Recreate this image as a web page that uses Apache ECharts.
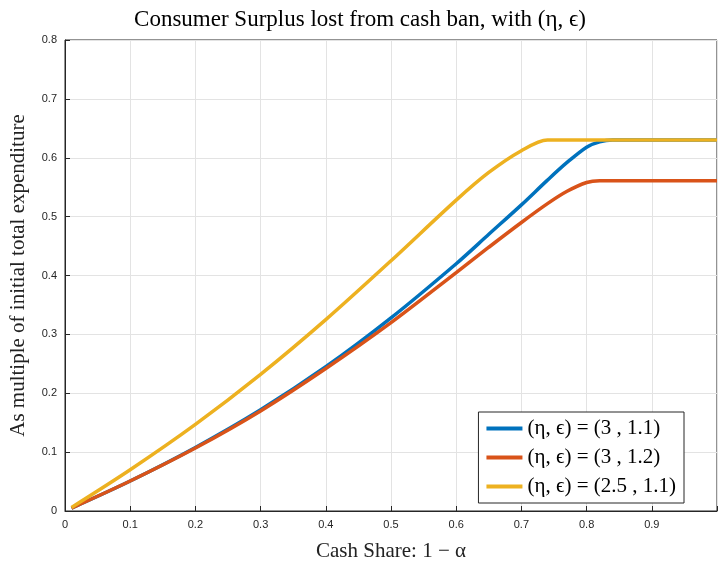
<!DOCTYPE html>
<html><head><meta charset="utf-8">
<script src="https://cdn.jsdelivr.net/npm/echarts@6/dist/echarts.min.js"></script>
<style>html,body{margin:0;padding:0;background:#fff;overflow:hidden}</style>
</head><body>
<div id="chartView" style="width:720px;height:567px;"></div>
<script>
var xData = [0.01, 0.1, 0.2, 0.3, 0.4, 0.5, 0.6, 0.65, 0.7, 0.74, 0.77, 0.8, 0.82, 0.84, 0.86, 0.9, 1.0];
var blue = [0.005, 0.051, 0.108, 0.172, 0.245, 0.328, 0.42, 0.47, 0.52, 0.562, 0.592, 0.618, 0.627, 0.63, 0.63, 0.63, 0.63];
var red = [0.005, 0.051, 0.107, 0.17, 0.242, 0.32, 0.405, 0.448, 0.49, 0.522, 0.543, 0.558, 0.561, 0.561, 0.561, 0.561, 0.561];
var yellow = [0.006, 0.07, 0.147, 0.232, 0.325, 0.425, 0.528, 0.575, 0.612, 0.63, 0.63, 0.63, 0.63, 0.63, 0.63, 0.63, 0.63];
var names = ['(η, ϵ) = (3 , 1.1)', '(η, ϵ) = (3 , 1.2)', '(η, ϵ) = (2.5 , 1.1)'];
var colors = ['#0072BD', '#D95319', '#EDB120'];

function pairs(ys) { return xData.map(function (x, i) { return [x, ys[i]]; }); }

var chartView = echarts.init(document.getElementById('chartView'));
var serif = '"Liberation Serif", "DejaVu Serif", serif';
var ops = {
	animation: false,
	title: {
		text: 'Consumer Surplus lost from cash ban, with (η, ϵ)',
		left: 'center', top: 3,
		textStyle: { fontFamily: serif, fontSize: 23, fontWeight: 'normal', color: '#000' }
	},
	color: colors,
	grid: { left: 63, right: -4, top: 40, bottom: 52, show: true, borderColor: '#262626', borderWidth: 1 },
	legend: {
		orient: 'vertical', right: 36, bottom: 64,
		backgroundColor: '#fff', borderColor: '#262626', borderWidth: 1,
		padding: [6, 8], itemGap: 8, itemWidth: 36, itemHeight: 4,
		icon: 'rect',
		textStyle: { fontFamily: serif, fontSize: 21, color: '#000' },
		data: names
	},
	xAxis: {
		type: 'value', min: 0, max: 1, interval: 0.1,
		name: 'Cash Share: 1 − α', nameLocation: 'middle', nameGap: 30,
		nameTextStyle: { fontFamily: serif, fontSize: 21, color: '#222' },
		axisLine: { lineStyle: { color: '#262626' } },
		axisTick: { inside: true, lineStyle: { color: '#262626' } },
		axisLabel: { color: '#262626', fontSize: 11, formatter: function (v) { return v === 1 ? '' : String(Math.round(v * 10) / 10); } },
		splitLine: { lineStyle: { color: '#e3e3e3' } }
	},
	yAxis: {
		type: 'value', min: 0, max: 0.8, interval: 0.1,
		name: 'As multiple of initial total expenditure', nameLocation: 'middle', nameGap: 36,
		nameTextStyle: { fontFamily: serif, fontSize: 21, color: '#222' },
		axisLine: { show: true, lineStyle: { color: '#262626' } },
		axisTick: { show: true, inside: true, lineStyle: { color: '#262626' } },
		axisLabel: { color: '#262626', fontSize: 11, formatter: function (v) { return String(Math.round(v * 10) / 10); } },
		splitLine: { lineStyle: { color: '#e3e3e3' } }
	},
	series: [
		{ name: names[0], type: 'line', smooth: 0.3, showSymbol: false, lineStyle: { width: 3.5 }, data: pairs(blue) },
		{ name: names[1], type: 'line', smooth: 0.3, showSymbol: false, lineStyle: { width: 3.5 }, data: pairs(red) },
		{ name: names[2], type: 'line', smooth: 0.3, showSymbol: false, lineStyle: { width: 3.5 }, data: pairs(yellow) }
	]
};
chartView.setOption(ops);
</script>
</body></html>
